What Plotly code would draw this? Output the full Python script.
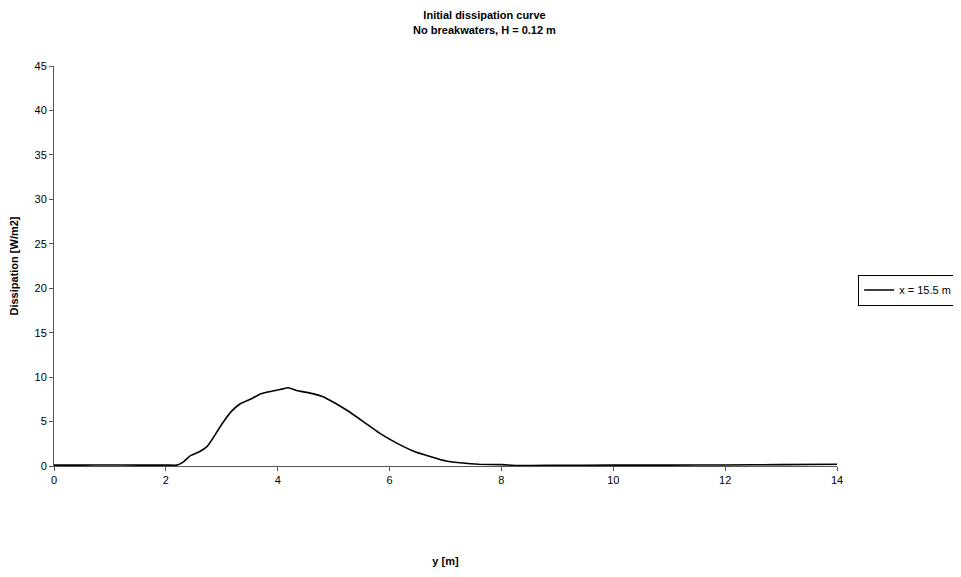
import plotly.graph_objects as go

# y position along the flume [m]
y_pos = [0.0, 0.5, 1.0, 1.5, 2.0, 2.2, 2.3, 2.44, 2.6, 2.74, 2.85, 3.0, 3.18, 3.33,
         3.51, 3.69, 3.8, 4.04, 4.19, 4.34, 4.58, 4.81, 4.99, 5.23, 5.53, 5.82,
         6.12, 6.42, 6.71, 7.01, 7.31, 7.6, 8.0, 8.3, 9.0, 10.0, 11.0, 12.0, 13.0, 14.0]

# dissipation [W/m2]
dissipation = [0.1, 0.1, 0.12, 0.1, 0.1, 0.1, 0.4, 1.17, 1.6, 2.2, 3.2, 4.7, 6.2, 7.0,
               7.5, 8.1, 8.3, 8.6, 8.8, 8.5, 8.2, 7.8, 7.2, 6.3, 5.0, 3.7,
               2.6, 1.7, 1.1, 0.57, 0.33, 0.2, 0.15, 0.05, 0.08, 0.1, 0.1, 0.12, 0.15, 0.2]

series_name = "x = 15.5 m"

fig = go.Figure()

fig.add_trace(go.Scatter(
    x=y_pos, y=dissipation, mode="lines", name=series_name,
    line=dict(color="black", width=1.6, shape="spline", smoothing=0.4),
))

# page body adds an 8px offset, so the figure is a bit smaller than the window
fig.update_layout(
    width=953, height=569,
    paper_bgcolor="white", plot_bgcolor="white",
    font=dict(family="Liberation Sans, Arial", size=11, color="black"),
    title=dict(
        text="<b>Initial dissipation curve<br>No breakwaters, H = 0.12 m</b>",
        x=0.5, xanchor="center", y=0.98, yanchor="top",
        font=dict(size=11),
    ),
    margin=dict(l=46, r=124, t=58, b=111, autoexpand=False),
    showlegend=True,
    legend=dict(
        x=1.027, xanchor="left", y=0.44, yanchor="middle",
        bordercolor="black", borderwidth=1, bgcolor="white",
        font=dict(size=11), tracegroupgap=0,
    ),
)

fig.update_xaxes(
    range=[0, 14], dtick=2, showgrid=False, zeroline=False,
    showline=True, linecolor="#555", linewidth=1,
    ticks="outside", ticklen=4, tickcolor="#555",
    title=dict(text="<b>y [m]</b>", font=dict(size=11), standoff=72),
)

fig.update_yaxes(
    range=[0, 45], dtick=5, showgrid=False, zeroline=False,
    showline=True, linecolor="#555", linewidth=1,
    ticks="outside", ticklen=4, tickcolor="#555",
    title=dict(text="<b>Dissipation [W/m2]</b>", font=dict(size=11), standoff=17),
)

fig.write_html("out.html")
